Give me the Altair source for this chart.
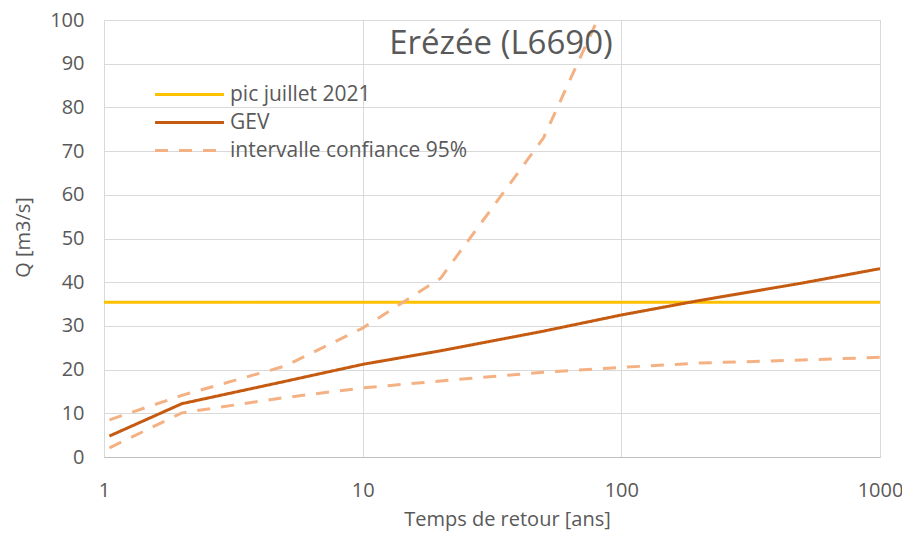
import altair as alt
import pandas as pd

# Return periods (years) and discharges (m3/s)
T_gev = [1.05, 2, 5, 10, 20, 50, 100, 200, 500, 1000]
Q_gev = [4.8, 12.2, 17.3, 21.2, 24.3, 28.8, 32.5, 35.8, 39.8, 43.1]

T_upper = [1.05, 2, 5, 10, 20, 50, 100]
Q_upper = [8.5, 14.1, 20.8, 29.5, 40.9, 73.0, 112.0]

T_lower = [1.05, 2, 5, 10, 20, 50, 100, 200, 500, 1000]
Q_lower = [2.1, 10.1, 13.6, 15.8, 17.4, 19.4, 20.5, 21.5, 22.2, 22.8]

T_pic = [1, 1000]
Q_pic = [35.4, 35.4]

series_names = ["pic juillet 2021", "GEV", "intervalle confiance 95%"]
series_colors = ["#FFC000", "#C55A11", "#F4B183"]
series_dash = [[1, 0], [1, 0], [13, 11]]

x_ticks = [1, 10, 100, 1000]
y_ticks = list(range(0, 101, 10))

rows = []
for t, q in zip(T_pic, Q_pic):
    rows.append({"serie": series_names[0], "part": "pic", "T": t, "Q": q})
for t, q in zip(T_gev, Q_gev):
    rows.append({"serie": series_names[1], "part": "gev", "T": t, "Q": q})
for t, q in zip(T_upper, Q_upper):
    rows.append({"serie": series_names[2], "part": "upper", "T": t, "Q": q})
for t, q in zip(T_lower, Q_lower):
    rows.append({"serie": series_names[2], "part": "lower", "T": t, "Q": q})
df = pd.DataFrame(rows)

FONT = "Open Sans"
GRAY = "#595959"

legend_kw = dict(
    title=None,
    orient="none",
    legendX=75,
    legendY=64,
    symbolType="M-5,0H5",
    symbolSize=190,
    symbolStrokeWidth=3,
    labelFontSize=21,
    labelFont=FONT,
    labelColor=GRAY,
    labelOffset=30,
    labelLimit=400,
    rowPadding=6,
)

chart = (
    alt.Chart(df)
    .mark_line(clip=True, strokeWidth=3)
    .encode(
        x=alt.X(
            "T:Q",
            scale=alt.Scale(type="log", domain=[1, 1000], nice=False),
            axis=alt.Axis(
                values=x_ticks,
                format="d",
                title="Temps de retour [ans]",
                labelFontSize=20,
                labelColor=GRAY,
                labelFont=FONT,
                labelPadding=23,
                labelFlush=False,
                ticks=False,
                domainColor="#BFBFBF",
                gridColor="#D9D9D9",
                titleFont=FONT,
                titleFontSize=20,
                titleFontWeight="normal",
                titleColor=GRAY,
                titleX=403,
                titleY=68,
                titleBaseline="alphabetic",
            ),
        ),
        y=alt.Y(
            "Q:Q",
            scale=alt.Scale(domain=[0, 100], nice=False),
            axis=alt.Axis(
                values=y_ticks,
                title="Q [m3/s]",
                labelFontSize=20,
                labelColor=GRAY,
                labelFont=FONT,
                labelPadding=20,
                ticks=False,
                domain=False,
                gridColor="#D9D9D9",
                titleFont=FONT,
                titleFontSize=20,
                titleFontWeight="normal",
                titleColor=GRAY,
                titleX=-75,
                titleY=217,
                titleBaseline="alphabetic",
            ),
        ),
        color=alt.Color(
            "serie:N",
            scale=alt.Scale(domain=series_names, range=series_colors),
            legend=alt.Legend(**legend_kw),
        ),
        strokeDash=alt.StrokeDash(
            "serie:N",
            scale=alt.Scale(domain=series_names, range=series_dash),
            legend=alt.Legend(**legend_kw),
        ),
        detail="part:N",
    )
    .properties(
        width=776,
        height=437,
        autosize=alt.AutoSizeParams(type="none"),
        padding={"left": 96, "top": 12, "right": 22, "bottom": 78},
        title=alt.TitleParams(
            "Erézée (L6690)",
            font=FONT,
            fontSize=33,
            fontWeight="normal",
            color=GRAY,
            anchor="middle",
            frame="group",
            offset=0,
            dx=9,
            dy=51,
        ),
    )
    .configure_view(stroke="#D9D9D9")
)

chart.save("out.html", embed_options={"renderer": "svg", "actions": False})
